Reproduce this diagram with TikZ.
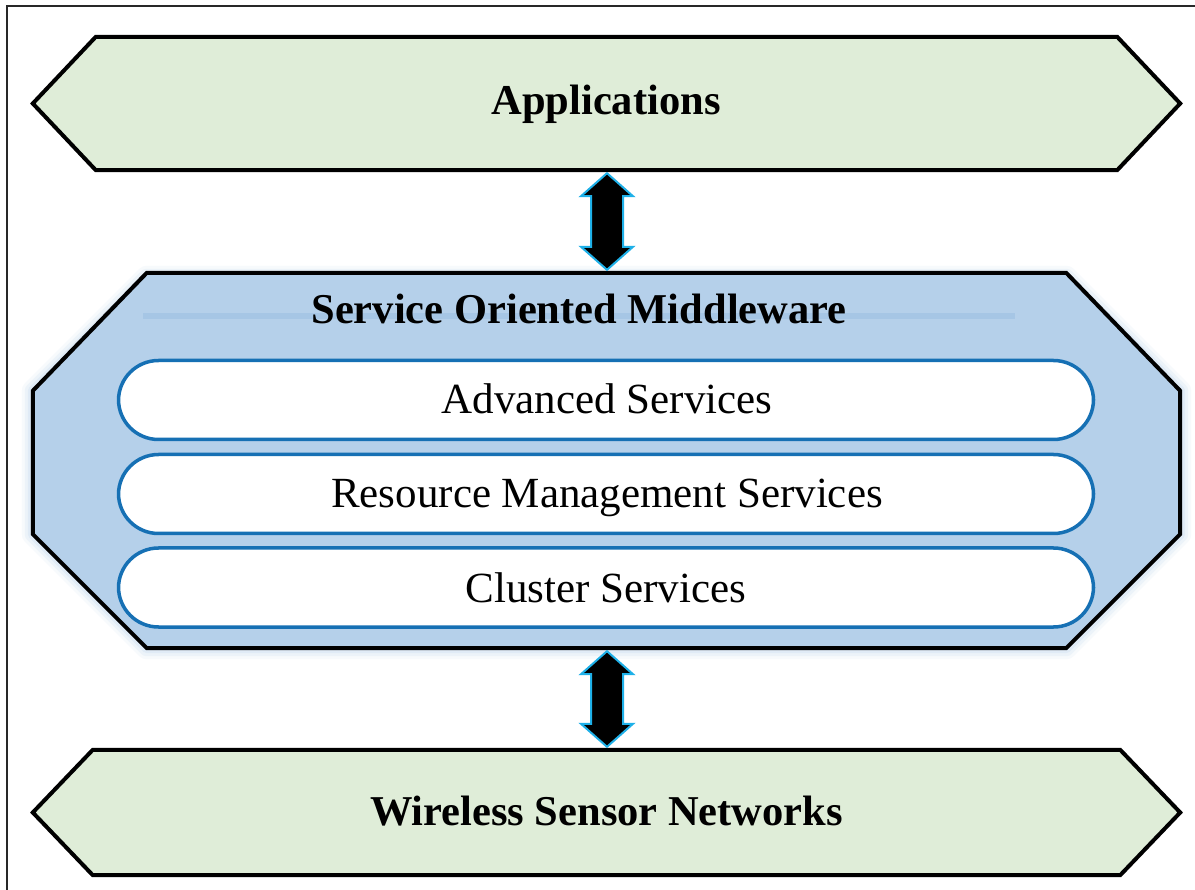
\documentclass[tikz,border=0pt]{standalone}
\usepackage{fontspec}
\setmainfont{Liberation Serif}
\usetikzlibrary{calc}

\definecolor{layergreen}{RGB}{223,237,216}
\definecolor{mwblue}{RGB}{181,208,234}
\definecolor{mwline}{RGB}{160,195,228}
\definecolor{mwglow}{RGB}{190,214,238}
\definecolor{pillblue}{RGB}{22,112,180}
\definecolor{arrowcyan}{RGB}{30,176,232}
\definecolor{framegray}{RGB}{40,40,40}

% double-headed block arrow between two tips
\newcommand{\layerarrow}[2]{%
  \filldraw[blockarrow]
    (#1) -- ++(26,23) -- ++(-10,0) -- ($(#2)+(16,-23)$) -- ++(10,0) -- (#2)
    -- ++(-26,-23) -- ++(10,0) -- ($(#1)+(-16,23)$) -- ++(-10,0) -- cycle;}

\begin{document}
\begin{tikzpicture}[x=1pt,y=-1pt,
  box/.style={draw=none, inner sep=0pt, minimum width=1147pt},
  outline/.style={draw=black, line width=4pt, line join=miter},
  boldlbl/.style={anchor=base, inner sep=0pt, font=\fontsize{42.5}{48}\selectfont\bfseries},
  plainlbl/.style={anchor=base, inner sep=0pt, font=\fontsize{43}{48}\selectfont},
  pill/.style={draw=pillblue, fill=white, line width=3.5pt, rounded corners=40pt,
               minimum width=975pt, minimum height=79pt, inner sep=0pt},
  blockarrow/.style={fill=black, draw=arrowcyan, line width=2pt, line join=miter},
]
\useasboundingbox (0,0) rectangle (1195,890);
\fill[white] (0,0) rectangle (1195,890);

% page frame
\draw[framegray, line width=2pt] (7,890) -- (7,6) -- (1196,6);

% layer extents
\node[box, minimum height=133pt] (app) at (606.5,103.5) {};
\node[box, minimum height=375pt] (mw)  at (606.5,460.5) {};
\node[box, minimum height=125pt] (wsn) at (606.5,812.5) {};

% Applications layer
\draw[outline, fill=layergreen]
  (app.west) -- ($(app.north west)+(63,0)$) -- ($(app.north east)+(-63,0)$)
  -- (app.east) -- ($(app.south east)+(-63,0)$) -- ($(app.south west)+(63,0)$) -- cycle;

% Wireless Sensor Networks layer
\draw[outline, fill=layergreen]
  (wsn.west) -- ($(wsn.north west)+(60,0)$) -- ($(wsn.north east)+(-60,0)$)
  -- (wsn.east) -- ($(wsn.south east)+(-60,0)$) -- ($(wsn.south west)+(60,0)$) -- cycle;

% middleware octagon: soft halo, then body
\foreach \w/\o in {22/0.12,16/0.18,10/0.25} {
  \draw[mwglow, line width=\w pt, opacity=\o, line join=round]
    ($(mw.north west)+(114,4)$) -- ($(mw.north east)+(-114,4)$)
    -- ($(mw.north east)+(0,118)$) -- ($(mw.south east)+(0,-114)$)
    -- ($(mw.south east)+(-114,0)$) -- ($(mw.south west)+(114,0)$)
    -- ($(mw.south west)+(0,-114)$) -- ($(mw.north west)+(0,118)$) -- cycle;
}
\draw[outline, fill=mwblue]
  ($(mw.north west)+(114,0)$) -- ($(mw.north east)+(-114,0)$)
  -- ($(mw.north east)+(0,118)$) -- ($(mw.south east)+(0,-114)$)
  -- ($(mw.south east)+(-114,0)$) -- ($(mw.south west)+(114,0)$)
  -- ($(mw.south west)+(0,-114)$) -- ($(mw.north west)+(0,118)$) -- cycle;

% title rule behind the middleware heading
\coordinate (ruleL) at (143,316);
\coordinate (ruleR) at (1015,316);
\draw[mwline, line width=6pt, opacity=0.7] (ruleL) -- (ruleR);
\node[boldlbl] (mwtitle) at (579,324) {Service Oriented Middleware};

% service pills
\node[pill] (adv) at (606,400)   {};
\node[pill] (res) at (606,494)   {};
\node[pill] (clu) at (606,587.5) {};
\node[plainlbl] (advlbl) at (607,414) {Advanced Services};
\node[plainlbl] (reslbl) at (607,508) {Resource Management Services};
\node[plainlbl] (clulbl) at (606,602) {Cluster Services};

% layer headings
\node[boldlbl] (applbl) at (606,115) {Applications};
\node[boldlbl] (wsnlbl) at (606.5,825) {Wireless Sensor Networks};

% connectors between layers
\coordinate (a1) at ($(app.south)+(0.5,3)$);
\coordinate (a2) at ($(mw.north)+(0.5,-3)$);
\layerarrow{a1}{a2}
\coordinate (b1) at ($(mw.south)+(0.5,3)$);
\coordinate (b2) at ($(wsn.north)+(0.5,-3)$);
\layerarrow{b1}{b2}
\end{tikzpicture}
\end{document}
